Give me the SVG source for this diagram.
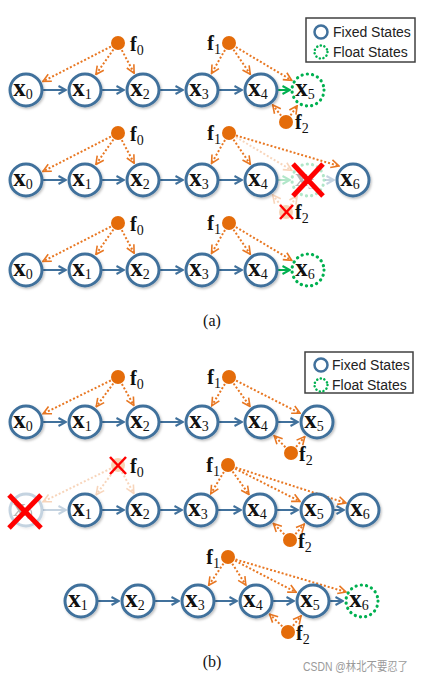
<svg xmlns="http://www.w3.org/2000/svg" width="424" height="682" viewBox="0 0 424 682">
<defs>
<style>
.n{fill:#fff;stroke:#41719C;stroke-width:3;filter:url(#sh)}
.g{fill:#fff;stroke:#00B050;stroke-width:3.2;stroke-dasharray:0.1 5.2;stroke-linecap:round}
.xl{font-family:"Liberation Serif",serif;font-weight:bold;font-size:25px;fill:#111;text-anchor:middle}
.fl{font-family:"Liberation Serif",serif;font-weight:bold;font-size:20px;fill:#111}
.sub{font-weight:normal;font-size:14px}
.fd{fill:#E46C0A}
.bl{stroke:#41719C;stroke-width:2;fill:none;marker-end:url(#mb)}
.gl{stroke:#00B050;stroke-width:2;fill:none;marker-end:url(#mg)}
.ol{stroke:#E87722;stroke-width:2;stroke-dasharray:2 2;fill:none;marker-end:url(#mo)}
.rx{stroke:#FF0000;stroke-width:5;stroke-linecap:butt}
.rxs{stroke:#FF0000;stroke-width:2.5}
.fade{opacity:0.3}
.lg{font-family:"Liberation Sans",Arial,sans-serif;font-size:14px;fill:#222}
.cap{font-family:"Liberation Serif",serif;font-size:16px;fill:#111;text-anchor:middle}
</style>
<filter id="sh" x="-30%" y="-30%" width="170%" height="170%"><feDropShadow dx="1.2" dy="1.5" stdDeviation="1" flood-color="#000" flood-opacity="0.25"/></filter>
<marker id="mb" viewBox="0 0 10 10" refX="9" refY="5" markerWidth="10" markerHeight="10" markerUnits="userSpaceOnUse" orient="auto"><path d="M1.5,1 L9,5 L1.5,9" fill="none" stroke="#41719C" stroke-width="2"/></marker>
<marker id="mg" viewBox="0 0 10 10" refX="9" refY="5" markerWidth="10" markerHeight="10" markerUnits="userSpaceOnUse" orient="auto"><path d="M1.5,1 L9,5 L1.5,9" fill="none" stroke="#00B050" stroke-width="2"/></marker>
<marker id="mo" viewBox="0 0 10 10" refX="9" refY="5" markerWidth="10" markerHeight="10" markerUnits="userSpaceOnUse" orient="auto"><path d="M1,1 L9,5 L1,9" fill="none" stroke="#E87722" stroke-width="1.6"/></marker>
</defs>
<rect width="424" height="682" fill="#fff"/>

<!-- ===== (a) legend ===== -->
<g id="legend-a">
<rect x="306" y="18" width="109" height="44" fill="#fff" stroke="#404040" stroke-width="1.5"/>
<circle cx="321" cy="32" r="6.5" fill="#fff" stroke="#41719C" stroke-width="2.5"/>
<circle cx="321" cy="52" r="6.5" fill="#fff" stroke="#00B050" stroke-width="2.5" stroke-dasharray="0.1 3.6" stroke-linecap="round"/>
<text class="lg" x="333" y="37">Fixed States</text>
<text class="lg" x="333" y="57">Float States</text>
</g>

<!-- ===== connectors ===== -->
<g id="connectors">
<!-- (a) row 1 -->
<line class="bl" x1="43" y1="90" x2="66" y2="90"/>
<line class="bl" x1="102" y1="90" x2="124" y2="90"/>
<line class="bl" x1="160" y1="90" x2="183" y2="90"/>
<line class="bl" x1="219" y1="90" x2="242" y2="90"/>
<line class="gl" x1="278" y1="90" x2="290" y2="90"/>
<line class="ol" x1="110.9" y1="46.6" x2="42.9" y2="81.4"/>
<line class="ol" x1="113.4" y1="49.5" x2="95.9" y2="74.5"/>
<line class="ol" x1="121.8" y1="50.1" x2="134.1" y2="73.2"/>
<line class="ol" x1="225" y1="49.9" x2="211.5" y2="73.5"/>
<line class="ol" x1="233.5" y1="49.6" x2="250.3" y2="74.3"/>
<line class="ol" x1="235.9" y1="47.1" x2="291.7" y2="80.3"/>
<line class="ol" x1="281.1" y1="115.7" x2="272.7" y2="105"/>
<line class="ol" x1="290.5" y1="115.4" x2="297.2" y2="105.7"/>
<!-- (a) row 2 -->
<line class="bl" x1="43" y1="180" x2="66" y2="180"/>
<line class="bl" x1="102" y1="180" x2="124" y2="180"/>
<line class="bl" x1="160" y1="180" x2="183" y2="180"/>
<line class="bl" x1="219" y1="180" x2="242" y2="180"/>
<line class="ol" x1="110.9" y1="136.6" x2="42.9" y2="171.4"/>
<line class="ol" x1="113.4" y1="139.5" x2="95.9" y2="164.5"/>
<line class="ol" x1="121.8" y1="140.1" x2="134.1" y2="163.2"/>
<line class="ol" x1="225" y1="139.9" x2="211.5" y2="163.5"/>
<line class="ol" x1="233.5" y1="139.6" x2="250.3" y2="164.3"/>
<line class="ol" x1="236" y1="135.5" x2="339" y2="166"/>
<g class="fade">
<line class="gl" x1="278" y1="180" x2="290" y2="180"/>
<line class="bl" x1="325" y1="180" x2="334" y2="180"/>
<line class="ol" x1="235.9" y1="137.1" x2="291.7" y2="170.3"/>
<line class="ol" x1="281.1" y1="205.7" x2="272.7" y2="195"/>
<line class="ol" x1="290.5" y1="205.4" x2="297.2" y2="195.7"/>
</g>
<!-- (a) row 3 -->
<line class="bl" x1="43" y1="270" x2="66" y2="270"/>
<line class="bl" x1="102" y1="270" x2="124" y2="270"/>
<line class="bl" x1="160" y1="270" x2="183" y2="270"/>
<line class="bl" x1="219" y1="270" x2="242" y2="270"/>
<line class="gl" x1="278" y1="270" x2="290" y2="270"/>
<line class="ol" x1="110.9" y1="226.6" x2="42.9" y2="261.4"/>
<line class="ol" x1="113.4" y1="229.5" x2="95.9" y2="254.5"/>
<line class="ol" x1="121.8" y1="230.1" x2="134.1" y2="253.2"/>
<line class="ol" x1="225" y1="229.9" x2="211.5" y2="253.5"/>
<line class="ol" x1="233.5" y1="229.6" x2="250.3" y2="254.3"/>
<line class="ol" x1="235.9" y1="227.1" x2="291.7" y2="260.3"/>
<!-- (b) row 1 -->
<line class="bl" x1="43" y1="422" x2="66" y2="422"/>
<line class="bl" x1="102" y1="422" x2="124" y2="422"/>
<line class="bl" x1="160" y1="422" x2="183" y2="422"/>
<line class="bl" x1="219" y1="422" x2="242" y2="422"/>
<line class="bl" x1="278" y1="422" x2="298" y2="422"/>
<line class="ol" x1="110.8" y1="380.5" x2="43.1" y2="413.7"/>
<line class="ol" x1="113.3" y1="383.5" x2="96.2" y2="406.7"/>
<line class="ol" x1="121.9" y1="384" x2="133.8" y2="405.4"/>
<line class="ol" x1="224.9" y1="383.9" x2="211.8" y2="405.7"/>
<line class="ol" x1="233.6" y1="383.5" x2="250" y2="406.5"/>
<line class="ol" x1="236.1" y1="380.6" x2="300.1" y2="413.3"/>
<line class="ol" x1="285.4" y1="447.2" x2="274.2" y2="435.7"/>
<line class="ol" x1="296.1" y1="446.9" x2="304.8" y2="436.6"/>
<!-- (b) row 2 -->
<line class="bl" x1="102" y1="510" x2="124" y2="510"/>
<line class="bl" x1="160" y1="510" x2="182" y2="510"/>
<line class="bl" x1="218" y1="510" x2="241" y2="510"/>
<line class="bl" x1="277" y1="510" x2="298" y2="510"/>
<line class="bl" x1="334" y1="510" x2="344" y2="510"/>
<line class="ol" x1="223.9" y1="471.9" x2="210.8" y2="493.7"/>
<line class="ol" x1="232.6" y1="471.5" x2="249" y2="494.5"/>
<line class="ol" x1="235.1" y1="468.6" x2="300" y2="501.4"/>
<line class="ol" x1="235.6" y1="467.5" x2="346" y2="503"/>
<line class="ol" x1="284.3" y1="534.3" x2="273.4" y2="523.4"/>
<line class="ol" x1="295.4" y1="534.1" x2="304.3" y2="524.1"/>
<g class="fade">
<line class="bl" x1="43" y1="510" x2="66" y2="510"/>
<line class="ol" x1="110.8" y1="468.5" x2="43.1" y2="501.7"/>
<line class="ol" x1="113.3" y1="471.5" x2="96.2" y2="494.7"/>
<line class="ol" x1="121.9" y1="472" x2="133.8" y2="493.4"/>
</g>
<!-- (b) row 3 -->
<line class="bl" x1="98" y1="601" x2="119" y2="601"/>
<line class="bl" x1="155" y1="601" x2="179" y2="601"/>
<line class="bl" x1="215" y1="601" x2="237" y2="601"/>
<line class="bl" x1="273" y1="601" x2="294" y2="601"/>
<line class="bl" x1="330" y1="601" x2="343" y2="601"/>
<line class="ol" x1="223.5" y1="563.6" x2="208.7" y2="585.3"/>
<line class="ol" x1="232.3" y1="563.7" x2="245.8" y2="585"/>
<line class="ol" x1="235.1" y1="560.7" x2="296.1" y2="592.3"/>
<line class="ol" x1="235.6" y1="559.5" x2="346" y2="592"/>
<line class="ol" x1="282.3" y1="626.4" x2="269.6" y2="614.2"/>
<line class="ol" x1="293" y1="625.8" x2="301.1" y2="615.8"/>
</g>

<!-- ===== (a) row 1 nodes ===== -->
<g id="a1-x0"><circle class="n" cx="26" cy="90" r="16"/><text class="xl" x="23" y="96">x<tspan class="sub" dy="3">0</tspan></text></g>
<g id="a1-x1"><circle class="n" cx="85" cy="90" r="16"/><text class="xl" x="82" y="96">x<tspan class="sub" dy="3">1</tspan></text></g>
<g id="a1-x2"><circle class="n" cx="143" cy="90" r="16"/><text class="xl" x="140" y="96">x<tspan class="sub" dy="3">2</tspan></text></g>
<g id="a1-x3"><circle class="n" cx="202" cy="90" r="16"/><text class="xl" x="199" y="96">x<tspan class="sub" dy="3">3</tspan></text></g>
<g id="a1-x4"><circle class="n" cx="261" cy="90" r="16"/><text class="xl" x="258" y="96">x<tspan class="sub" dy="3">4</tspan></text></g>
<g id="a1-x5"><circle class="g" cx="308" cy="90" r="16"/><text class="xl" x="305" y="96">x<tspan class="sub" dy="3">5</tspan></text></g>
<g id="a1-f0"><circle class="fd" cx="118" cy="43" r="7"/><text class="fl" x="130" y="51">f<tspan class="sub" dy="4">0</tspan></text></g>
<g id="a1-f1"><circle class="fd" cx="229" cy="43" r="7"/><text class="fl" x="221" y="50" text-anchor="end">f<tspan class="sub" dy="4">1</tspan></text></g>
<g id="a1-f2"><circle class="fd" cx="286" cy="122" r="7"/><text class="fl" x="295" y="129">f<tspan class="sub" dy="4">2</tspan></text></g>

<!-- ===== (a) row 2 nodes ===== -->
<g id="a2-x0"><circle class="n" cx="26" cy="180" r="16"/><text class="xl" x="23" y="186">x<tspan class="sub" dy="3">0</tspan></text></g>
<g id="a2-x1"><circle class="n" cx="85" cy="180" r="16"/><text class="xl" x="82" y="186">x<tspan class="sub" dy="3">1</tspan></text></g>
<g id="a2-x2"><circle class="n" cx="143" cy="180" r="16"/><text class="xl" x="140" y="186">x<tspan class="sub" dy="3">2</tspan></text></g>
<g id="a2-x3"><circle class="n" cx="202" cy="180" r="16"/><text class="xl" x="199" y="186">x<tspan class="sub" dy="3">3</tspan></text></g>
<g id="a2-x4"><circle class="n" cx="261" cy="180" r="16"/><text class="xl" x="258" y="186">x<tspan class="sub" dy="3">4</tspan></text></g>
<g id="a2-x5"><g class="fade"><circle class="g" cx="308" cy="180" r="16"/><text class="xl" x="305" y="186">x<tspan class="sub" dy="3">5</tspan></text></g>
<line class="rx" x1="293" y1="164" x2="323" y2="196"/><line class="rx" x1="323" y1="164" x2="293" y2="196"/></g>
<g id="a2-x6"><circle class="n" cx="353" cy="180" r="16"/><text class="xl" x="350" y="186">x<tspan class="sub" dy="3">6</tspan></text></g>
<g id="a2-f0"><circle class="fd" cx="118" cy="133" r="7"/><text class="fl" x="130" y="141">f<tspan class="sub" dy="4">0</tspan></text></g>
<g id="a2-f1"><circle class="fd" cx="229" cy="133" r="7"/><text class="fl" x="221" y="140" text-anchor="end">f<tspan class="sub" dy="4">1</tspan></text></g>
<g id="a2-f2"><circle class="fd fade" cx="286" cy="212" r="7"/><line class="rxs" x1="280" y1="205" x2="293" y2="219"/><line class="rxs" x1="293" y1="205" x2="280" y2="219"/><text class="fl" x="295" y="219">f<tspan class="sub" dy="4">2</tspan></text></g>

<!-- ===== (a) row 3 nodes ===== -->
<g id="a3-x0"><circle class="n" cx="26" cy="270" r="16"/><text class="xl" x="23" y="276">x<tspan class="sub" dy="3">0</tspan></text></g>
<g id="a3-x1"><circle class="n" cx="85" cy="270" r="16"/><text class="xl" x="82" y="276">x<tspan class="sub" dy="3">1</tspan></text></g>
<g id="a3-x2"><circle class="n" cx="143" cy="270" r="16"/><text class="xl" x="140" y="276">x<tspan class="sub" dy="3">2</tspan></text></g>
<g id="a3-x3"><circle class="n" cx="202" cy="270" r="16"/><text class="xl" x="199" y="276">x<tspan class="sub" dy="3">3</tspan></text></g>
<g id="a3-x4"><circle class="n" cx="261" cy="270" r="16"/><text class="xl" x="258" y="276">x<tspan class="sub" dy="3">4</tspan></text></g>
<g id="a3-x6"><circle class="g" cx="308" cy="270" r="16"/><text class="xl" x="305" y="276">x<tspan class="sub" dy="3">6</tspan></text></g>
<g id="a3-f0"><circle class="fd" cx="118" cy="223" r="7"/><text class="fl" x="130" y="231">f<tspan class="sub" dy="4">0</tspan></text></g>
<g id="a3-f1"><circle class="fd" cx="229" cy="223" r="7"/><text class="fl" x="221" y="230" text-anchor="end">f<tspan class="sub" dy="4">1</tspan></text></g>

<text class="cap" x="212" y="326">(a)</text>

<!-- ===== (b) legend ===== -->
<g id="legend-b">
<rect x="305" y="352" width="108" height="41" fill="#fff" stroke="#404040" stroke-width="1.5"/>
<circle cx="321" cy="365" r="6.5" fill="#fff" stroke="#41719C" stroke-width="2.5"/>
<circle cx="321" cy="385" r="6.5" fill="#fff" stroke="#00B050" stroke-width="2.5" stroke-dasharray="0.1 3.6" stroke-linecap="round"/>
<text class="lg" x="332" y="370">Fixed States</text>
<text class="lg" x="332" y="390">Float States</text>
</g>

<!-- ===== (b) row 1 nodes ===== -->
<g id="b1-x0"><circle class="n" cx="26" cy="422" r="16"/><text class="xl" x="23" y="428">x<tspan class="sub" dy="3">0</tspan></text></g>
<g id="b1-x1"><circle class="n" cx="85" cy="422" r="16"/><text class="xl" x="82" y="428">x<tspan class="sub" dy="3">1</tspan></text></g>
<g id="b1-x2"><circle class="n" cx="143" cy="422" r="16"/><text class="xl" x="140" y="428">x<tspan class="sub" dy="3">2</tspan></text></g>
<g id="b1-x3"><circle class="n" cx="202" cy="422" r="16"/><text class="xl" x="199" y="428">x<tspan class="sub" dy="3">3</tspan></text></g>
<g id="b1-x4"><circle class="n" cx="261" cy="422" r="16"/><text class="xl" x="258" y="428">x<tspan class="sub" dy="3">4</tspan></text></g>
<g id="b1-x5"><circle class="n" cx="317" cy="422" r="16"/><text class="xl" x="314" y="428">x<tspan class="sub" dy="3">5</tspan></text></g>
<g id="b1-f0"><circle class="fd" cx="118" cy="377" r="7"/><text class="fl" x="130" y="385">f<tspan class="sub" dy="4">0</tspan></text></g>
<g id="b1-f1"><circle class="fd" cx="229" cy="377" r="7"/><text class="fl" x="221" y="384" text-anchor="end">f<tspan class="sub" dy="4">1</tspan></text></g>
<g id="b1-f2"><circle class="fd" cx="291" cy="453" r="7"/><text class="fl" x="299" y="461">f<tspan class="sub" dy="4">2</tspan></text></g>

<!-- ===== (b) row 2 nodes ===== -->
<g id="b2-x0"><g class="fade"><circle class="n" cx="26" cy="510" r="16"/><text class="xl" x="23" y="516">x<tspan class="sub" dy="3">0</tspan></text></g>
<line class="rx" x1="9" y1="495" x2="41" y2="528"/><line class="rx" x1="41" y1="495" x2="9" y2="528"/></g>
<g id="b2-x1"><circle class="n" cx="85" cy="510" r="16"/><text class="xl" x="82" y="516">x<tspan class="sub" dy="3">1</tspan></text></g>
<g id="b2-x2"><circle class="n" cx="143" cy="510" r="16"/><text class="xl" x="140" y="516">x<tspan class="sub" dy="3">2</tspan></text></g>
<g id="b2-x3"><circle class="n" cx="201" cy="510" r="16"/><text class="xl" x="198" y="516">x<tspan class="sub" dy="3">3</tspan></text></g>
<g id="b2-x4"><circle class="n" cx="260" cy="510" r="16"/><text class="xl" x="257" y="516">x<tspan class="sub" dy="3">4</tspan></text></g>
<g id="b2-x5"><circle class="n" cx="317" cy="510" r="16"/><text class="xl" x="314" y="516">x<tspan class="sub" dy="3">5</tspan></text></g>
<g id="b2-x6"><circle class="n" cx="363" cy="510" r="16"/><text class="xl" x="360" y="516">x<tspan class="sub" dy="3">6</tspan></text></g>
<g id="b2-f0"><circle class="fd fade" cx="118" cy="465" r="7"/><line class="rxs" x1="110" y1="457" x2="126" y2="474"/><line class="rxs" x1="126" y1="457" x2="110" y2="474"/><text class="fl" x="130" y="473">f<tspan class="sub" dy="4">0</tspan></text></g>
<g id="b2-f1"><circle class="fd" cx="228" cy="465" r="7"/><text class="fl" x="220" y="472" text-anchor="end">f<tspan class="sub" dy="4">1</tspan></text></g>
<g id="b2-f2"><circle class="fd" cx="290" cy="540" r="7"/><text class="fl" x="298" y="548">f<tspan class="sub" dy="4">2</tspan></text></g>

<!-- ===== (b) row 3 nodes ===== -->
<g id="b3-x1"><circle class="n" cx="81" cy="601" r="16"/><text class="xl" x="78" y="607">x<tspan class="sub" dy="3">1</tspan></text></g>
<g id="b3-x2"><circle class="n" cx="138" cy="601" r="16"/><text class="xl" x="135" y="607">x<tspan class="sub" dy="3">2</tspan></text></g>
<g id="b3-x3"><circle class="n" cx="198" cy="601" r="16"/><text class="xl" x="195" y="607">x<tspan class="sub" dy="3">3</tspan></text></g>
<g id="b3-x4"><circle class="n" cx="256" cy="601" r="16"/><text class="xl" x="253" y="607">x<tspan class="sub" dy="3">4</tspan></text></g>
<g id="b3-x5"><circle class="n" cx="313" cy="601" r="16"/><text class="xl" x="310" y="607">x<tspan class="sub" dy="3">5</tspan></text></g>
<g id="b3-x6"><circle class="g" cx="362" cy="601" r="16"/><text class="xl" x="359" y="607">x<tspan class="sub" dy="3">6</tspan></text></g>
<g id="b3-f1"><circle class="fd" cx="228" cy="557" r="7"/><text class="fl" x="220" y="564" text-anchor="end">f<tspan class="sub" dy="4">1</tspan></text></g>
<g id="b3-f2"><circle class="fd" cx="288" cy="632" r="7"/><text class="fl" x="296" y="640">f<tspan class="sub" dy="4">2</tspan></text></g>

<text class="cap" x="212" y="667">(b)</text>
<text x="303" y="671" font-family="'Liberation Sans','Noto Sans CJK SC',sans-serif" font-size="12" fill="#9a9a9a" textLength="105" lengthAdjust="spacingAndGlyphs">CSDN @林北不要忍了</text>
</svg>
